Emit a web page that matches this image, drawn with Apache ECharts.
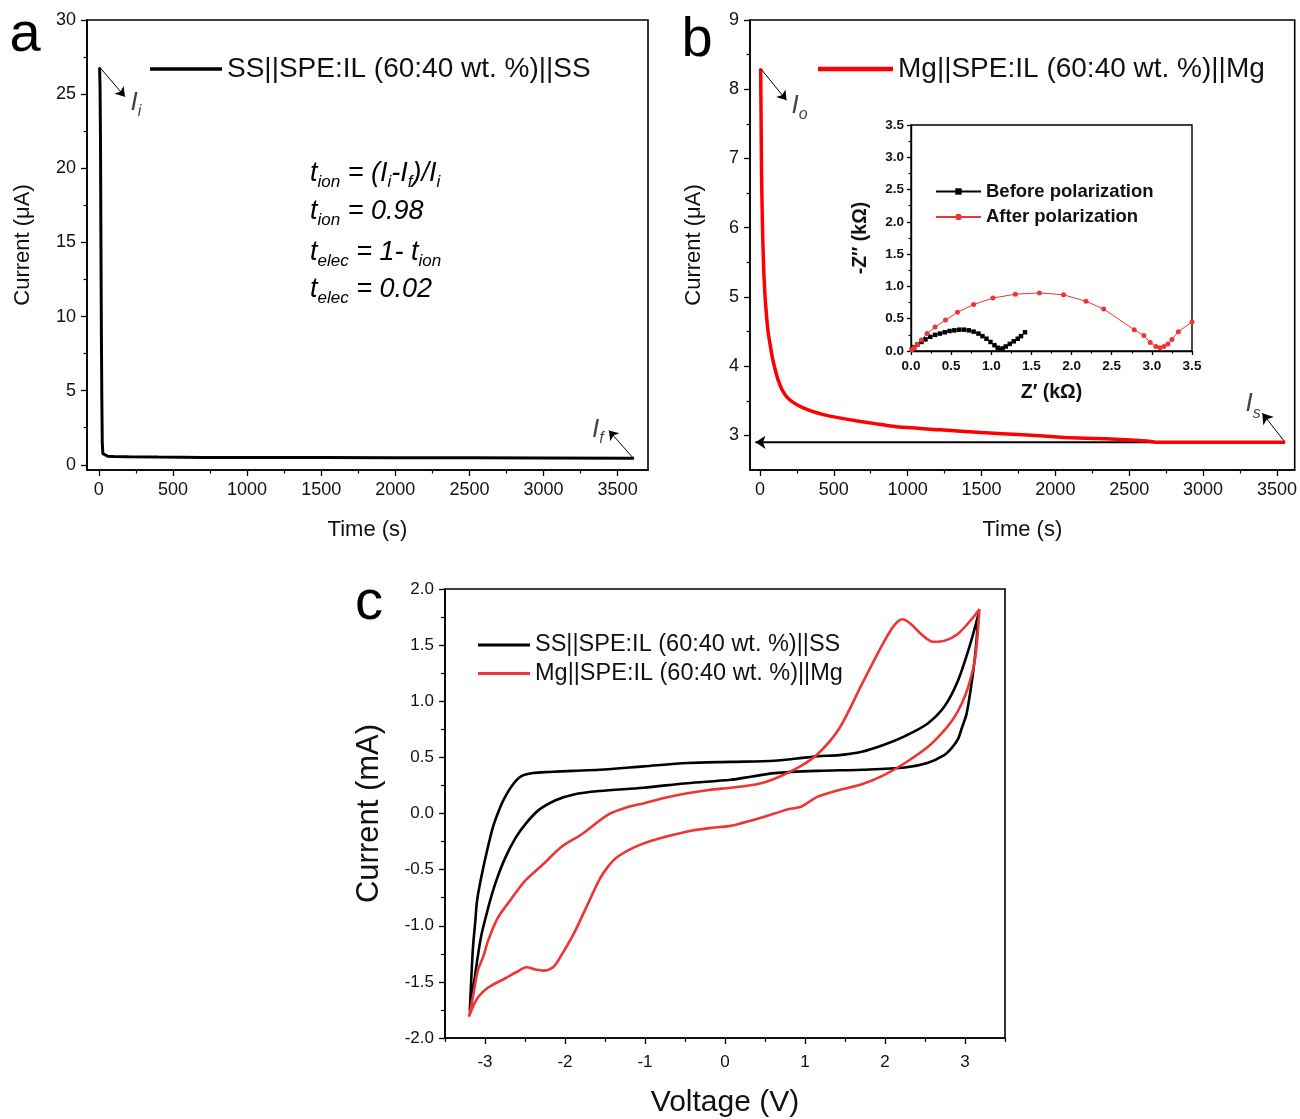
<!DOCTYPE html>
<html><head><meta charset="utf-8">
<script src="https://cdn.jsdelivr.net/npm/echarts@6/dist/echarts.min.js"></script>
<style>html,body{margin:0;padding:0;background:#fff}#chart{width:1300px;height:1119px}</style>
</head><body><div id="chart"></div>
<script>
// ---------- Panel a : DC polarization SS||SPE:IL||SS ----------
const timeA = [5, 8, 11, 14, 17, 20, 23, 27, 35, 60, 100, 200, 400, 700, 1000, 1500, 2000, 2500, 3000, 3610];
const currA = [26.8, 25.5, 22.0, 15.0, 9.0, 4.5, 1.5, 0.75, 0.62, 0.58, 0.56, 0.54, 0.52, 0.5, 0.5, 0.49, 0.48, 0.47, 0.46, 0.45];

// ---------- Panel b : DC polarization Mg||SPE:IL||Mg ----------
const timeB = [5, 8, 11, 15, 20, 27, 35, 42, 55, 70, 85, 100, 120, 150, 185, 230, 290, 350, 430, 520, 650, 780, 950, 1220, 1500, 1780, 2060, 2340, 2620, 2680, 3000, 3300, 3555];
const currB = [8.3, 7.6, 6.8, 6.3, 5.8, 5.33, 5.0, 4.8, 4.5, 4.3, 4.12, 3.98, 3.82, 3.66, 3.55, 3.47, 3.40, 3.35, 3.30, 3.26, 3.21, 3.17, 3.12, 3.08, 3.04, 3.01, 2.97, 2.95, 2.92, 2.90, 2.90, 2.90, 2.90];
const steadyLineT = [3555, -30];
const steadyLineI = [2.9, 2.9];

// ---------- Inset : Nyquist ----------
const zReBefore = [0.01,0.04,0.08,0.13,0.18,0.24,0.30,0.36,0.42,0.48,0.54,0.60,0.66,0.72,0.78,0.84,0.89,0.94,0.99,1.04,1.08,1.11,1.14,1.18,1.23,1.28,1.33,1.37,1.42];
const zImBefore = [0.02,0.06,0.10,0.14,0.18,0.22,0.25,0.27,0.29,0.31,0.32,0.33,0.33,0.32,0.30,0.27,0.23,0.19,0.14,0.09,0.05,0.02,0.04,0.07,0.11,0.15,0.19,0.23,0.29];
const zReAfter = [0.01,0.04,0.08,0.13,0.2,0.3,0.43,0.58,0.78,1.02,1.3,1.6,1.9,2.18,2.4,2.78,2.9,2.98,3.05,3.1,3.15,3.2,3.25,3.33,3.5];
const zImAfter = [0.02,0.05,0.1,0.17,0.27,0.37,0.48,0.6,0.72,0.82,0.88,0.9,0.87,0.77,0.65,0.33,0.24,0.13,0.07,0.05,0.07,0.11,0.18,0.3,0.45];

// ---------- Panel c : cyclic voltammetry ----------
const cvSSVolt = [-3.19,-3.17,-3.15,-3.12,-3.10,-3.05,-2.98,-2.90,-2.83,-2.77,-2.66,-2.55,-2.40,-2.20,-1.90,-1.57,-1.02,-0.47,0.07,0.62,0.90,1.16,1.43,1.71,1.98,2.25,2.53,2.74,2.91,3.07,3.17,
  3.13,3.08,3.02,2.96,2.91,2.83,2.74,2.53,2.25,1.71,1.16,0.62,0.34,0.07,-0.47,-1.02,-1.57,-1.89,-2.11,-2.33,-2.49,-2.62,-2.75,-2.85,-2.93,-3.00,-3.05,-3.10,-3.14,-3.19];
const cvSSCurr = [-1.76,-1.45,-1.19,-0.95,-0.78,-0.58,-0.35,-0.12,0.02,0.12,0.25,0.33,0.36,0.37,0.38,0.39,0.42,0.45,0.46,0.47,0.49,0.51,0.52,0.55,0.61,0.69,0.80,0.95,1.18,1.52,1.78,
  1.43,1.15,0.89,0.76,0.66,0.58,0.52,0.45,0.41,0.39,0.38,0.36,0.33,0.30,0.27,0.23,0.20,0.17,0.12,0.03,-0.09,-0.22,-0.40,-0.58,-0.76,-0.95,-1.10,-1.32,-1.52,-1.76];
const cvMgVolt = [-3.20,-3.15,-3.09,-3.02,-2.96,-2.84,-2.67,-2.50,-2.27,-2.05,-1.78,-1.46,-1.20,-1.02,-0.75,-0.47,-0.20,0.07,0.40,0.62,0.94,1.16,1.43,1.71,1.98,2.12,2.22,2.32,2.45,2.60,2.75,2.91,3.07,3.18,
  3.13,3.05,2.96,2.85,2.69,2.53,2.25,1.98,1.71,1.43,1.16,0.95,0.80,0.62,0.34,0.07,-0.20,-0.47,-0.91,-1.13,-1.35,-1.47,-1.57,-1.73,-1.89,-2.06,-2.15,-2.27,-2.37,-2.48,-2.60,-2.75,-2.96,-3.08,-3.15,-3.20];
const cvMgCurr = [-1.81,-1.63,-1.40,-1.27,-1.13,-0.93,-0.76,-0.60,-0.45,-0.30,-0.18,-0.01,0.06,0.09,0.14,0.18,0.21,0.23,0.26,0.31,0.42,0.53,0.76,1.15,1.52,1.68,1.73,1.69,1.60,1.53,1.54,1.60,1.72,1.82,
  1.40,1.15,0.98,0.84,0.70,0.59,0.45,0.34,0.26,0.21,0.15,0.06,0.04,0.00,-0.06,-0.11,-0.13,-0.16,-0.24,-0.30,-0.39,-0.48,-0.59,-0.83,-1.07,-1.28,-1.37,-1.40,-1.39,-1.37,-1.41,-1.47,-1.55,-1.63,-1.72,-1.81];

// ---------- tick labels ----------
const ticksTime = [0, 500, 1000, 1500, 2000, 2500, 3000, 3500];
const ticksTimeMinor = [250, 750, 1250, 1750, 2250, 2750, 3250];
const ticksCurrA = [0, 5, 10, 15, 20, 25, 30];
const ticksCurrAMinor = [2.5, 7.5, 12.5, 17.5, 22.5, 27.5];
const ticksCurrB = [3, 4, 5, 6, 7, 8, 9];
const ticksCurrBMinor = [3.5, 4.5, 5.5, 6.5, 7.5, 8.5];
const ticksZ = [0, 0.5, 1, 1.5, 2, 2.5, 3, 3.5];
const ticksZMinor = [0.25, 0.75, 1.25, 1.75, 2.25, 2.75, 3.25];
const ticksVolt = [-3, -2, -1, 0, 1, 2, 3];
const ticksVoltMinor = [-3.5, -2.5, -1.5, -0.5, 0.5, 1.5, 2.5, 3.5];
const ticksCurrC = [-2, -1.5, -1, -0.5, 0, 0.5, 1, 1.5, 2];
const ticksCurrCMinor = [-1.75, -1.25, -0.75, -0.25, 0.25, 0.75, 1.25, 1.75];

// ---------- annotation anchors (data coords) ----------
const annA = { peak: [7, 26.8], peakTip: [176, 24.83], peakLbl: [250, 24.4], end: [3610, 0.4], endTip: [3441, 2.31], endLbl: [3367, 2.36] };
const annB = { peak: [5, 8.3], peakTip: [180, 7.84], peakLbl: [269, 7.76], end: [3555, 2.9], endTip: [3401, 3.32], endLbl: [3338, 3.45] };

const nameSS = 'SS||SPE:IL (60:40 wt. %)||SS';
const nameMg = 'Mg||SPE:IL (60:40 wt. %)||Mg';
const FONT = "'Liberation Sans', Arial, Helvetica, sans-serif";
const TXT = '#111';
const RED = '#ff0000';
const RED2 = '#ee3535';
const zip = (a, b) => a.map((v, i) => [v, b[i]]);

function axes(kind, grid, min, max, major, minor, o) {
  const pos = kind === 'x' ? 'bottom' : 'left';
  const main = {
    type: 'value', gridIndex: grid, min: min, max: max, position: pos,
    axisLine: { show: true, onZero: false, lineStyle: { color: '#000', width: o.lw || 1.6 } },
    axisTick: { show: true, inside: false, length: o.tl || 6, customValues: major, lineStyle: { color: '#000', width: 1.3 } },
    axisLabel: { show: true, customValues: major, color: TXT, fontFamily: FONT, fontSize: o.fs, fontWeight: o.fw || 'normal', margin: o.margin, formatter: o.fmt },
    splitLine: { show: false }, minorTick: { show: false },
    name: o.name, nameLocation: 'middle', nameGap: o.nameGap,
    nameTextStyle: { color: TXT, fontFamily: FONT, fontSize: o.nfs, fontWeight: o.fw || 'normal' }
  };
  const sub = {
    type: 'value', gridIndex: grid, min: min, max: max, position: pos,
    axisLine: { show: false, onZero: false },
    axisTick: { show: true, inside: false, length: o.mtl || 3.5, customValues: minor, lineStyle: { color: '#000', width: 1.2 } },
    axisLabel: { show: false }, splitLine: { show: false }
  };
  return [main, sub];
}

const f1 = v => v.toFixed(1);
const f0 = v => String(v);
const xAxes = [].concat(
  axes('x', 0, -80, 3705, ticksTime, ticksTimeMinor, { fs: 18, margin: 11, fmt: f0, name: 'Time (s)', nameGap: 49, nfs: 22 }),
  axes('x', 1, -67, 3620, ticksTime, ticksTimeMinor, { fs: 18, margin: 11, fmt: f0, name: 'Time (s)', nameGap: 49, nfs: 22 }),
  axes('x', 2, 0, 3.5, ticksZ, ticksZMinor, { fs: 13.5, fw: 'bold', margin: 8, fmt: f1, name: 'Z\u2032 (k\u03a9)', nameGap: 32, nfs: 19.5, tl: 4, mtl: 2.5, lw: 1.4 }),
  axes('x', 3, -3.5, 3.5, ticksVolt, ticksVoltMinor, { fs: 17, margin: 16, fmt: f0, name: 'Voltage (V)', nameGap: 50, nfs: 30, mtl: 4 })
);
const yAxes = [].concat(
  axes('y', 0, -0.35, 30, ticksCurrA, ticksCurrAMinor, { fs: 18, margin: 11, fmt: f0, name: 'Current (\u03bcA)', nameGap: 53, nfs: 22 }),
  axes('y', 1, 2.5, 9, ticksCurrB, ticksCurrBMinor, { fs: 18, margin: 11, fmt: f0, name: 'Current (\u03bcA)', nameGap: 45, nfs: 22 }),
  axes('y', 2, 0, 3.5, ticksZ, ticksZMinor, { fs: 13.5, fw: 'bold', margin: 7, fmt: f1, name: '-Z\u2033 (k\u03a9)', nameGap: 40, nfs: 19.5, tl: 4, mtl: 2.5, lw: 1.4 }),
  axes('y', 3, -2, 2, ticksCurrC, ticksCurrCMinor, { fs: 17, margin: 11, fmt: f1, name: 'Current (mA)', nameGap: 60, nfs: 31, mtl: 4 })
);

const subRich = (fs, sfs, lh) => ({
  m: { fontFamily: FONT, fontStyle: 'italic', fontSize: fs, lineHeight: lh, color: TXT },
  s: { fontFamily: FONT, fontStyle: 'italic', fontSize: sfs, lineHeight: sfs, verticalAlign: 'bottom', color: TXT }
});
const annRich = subRich(26, 16, 34);

function labelSeries(xi, yi, pts, texts) {
  return {
    type: 'scatter', xAxisIndex: xi, yAxisIndex: yi, symbolSize: 0, silent: true, z: 5,
    data: pts.map((p, i) => ({ value: p, label: { formatter: texts[i] } })),
    label: { show: true, position: 'inside', rich: annRich }
  };
}
function arrowMark(pairs, extra) {
  return Object.assign({
    silent: true, symbol: ['none', 'arrow'], symbolSize: 9, animation: false,
    lineStyle: { color: '#000', width: 1, type: 'solid' }, label: { show: false },
    emphasis: { disabled: true },
    data: pairs.map(p => [{ coord: p[0] }, { coord: p[1] }])
  }, extra || {});
}

const series = [
  // panel a
  { type: 'line', name: nameSS, xAxisIndex: 0, yAxisIndex: 0, data: zip(timeA, currA), symbol: 'none',
    lineStyle: { color: '#000', width: 3 }, itemStyle: { color: '#000' },
    markLine: arrowMark([[annA.peak, annA.peakTip], [annA.end, annA.endTip]]) },
  labelSeries(0, 0, [annA.peakLbl, annA.endLbl], ['{m|I}{s|i}', '{m|I}{s|f}']),
  // panel b
  { type: 'line', xAxisIndex: 2, yAxisIndex: 2, data: zip(steadyLineT, steadyLineI), symbol: 'none', z: 1,
    lineStyle: { color: '#000', width: 2 },
    markLine: arrowMark([[[0, 2.9], [-30, 2.9]], [annB.end, annB.endTip]], { z: 1, symbolSize: 10 }) },
  { type: 'line', name: nameMg, xAxisIndex: 2, yAxisIndex: 2, data: zip(timeB, currB), symbol: 'none', z: 3, smooth: 0.15,
    lineStyle: { color: RED, width: 3.5 }, itemStyle: { color: RED },
    markLine: arrowMark([[annB.peak, annB.peakTip]]) },
  labelSeries(2, 2, [annB.peakLbl, annB.endLbl], ['{m|I}{s|o}', '{m|I}{s|s}']),
  // inset
  { type: 'line', name: 'Before polarization', xAxisIndex: 4, yAxisIndex: 4, data: zip(zReBefore, zImBefore),
    symbol: 'rect', symbolSize: 4.5, showSymbol: true, lineStyle: { color: '#000', width: 1 }, itemStyle: { color: '#000' } },
  { type: 'line', name: 'After polarization', xAxisIndex: 4, yAxisIndex: 4, data: zip(zReAfter, zImAfter),
    symbol: 'circle', symbolSize: 5, showSymbol: true, lineStyle: { color: RED2, width: 1 }, itemStyle: { color: RED2 } },
  // panel c
  { type: 'line', name: nameSS, xAxisIndex: 6, yAxisIndex: 6, data: zip(cvSSVolt, cvSSCurr), symbol: 'none', smooth: 0.3,
    lineStyle: { color: '#000', width: 2.6 }, itemStyle: { color: '#000' } },
  { type: 'line', name: nameMg, xAxisIndex: 6, yAxisIndex: 6, data: zip(cvMgVolt, cvMgCurr), symbol: 'none', smooth: 0.3,
    lineStyle: { color: RED2, width: 2.6 }, itemStyle: { color: RED2 } }
];

const legTxt = fs => ({ color: TXT, fontFamily: FONT, fontSize: fs });
const legend = [
  { data: [{ name: nameSS, icon: 'rect', itemStyle: { color: '#000' } }], left: 150, top: 55, itemWidth: 72, itemHeight: 3.5, selectedMode: false, textStyle: legTxt(28), padding: 0 },
  { data: [{ name: nameMg, icon: 'rect', itemStyle: { color: RED } }], left: 818, top: 55, itemWidth: 75, itemHeight: 4.5, selectedMode: false, textStyle: legTxt(28), padding: 0 },
  { data: ['Before polarization', 'After polarization'], orient: 'vertical', left: 935, top: 182, itemWidth: 45, itemHeight: 8, itemGap: 6.5, selectedMode: false,
    textStyle: Object.assign(legTxt(18.5), { fontWeight: 'bold' }), padding: 0 },
  { data: [{ name: nameSS, icon: 'rect', itemStyle: { color: '#000' } }, { name: nameMg, icon: 'rect', itemStyle: { color: RED2 } }],
    orient: 'vertical', left: 478, top: 633, itemWidth: 52, itemHeight: 2.8, itemGap: 4.5, selectedMode: false, textStyle: legTxt(23.5), padding: 0 }
];

const eqRich = subRich(27, 17, 36);
const graphic = [
  { type: 'text', x: 25, y: 36, style: { text: 'a', font: '56px ' + FONT, fill: '#000', align: 'center', verticalAlign: 'middle' } },
  { type: 'text', x: 697, y: 41, style: { text: 'b', font: '56px ' + FONT, fill: '#000', align: 'center', verticalAlign: 'middle' } },
  { type: 'text', x: 369, y: 604, style: { text: 'c', font: '56px ' + FONT, fill: '#000', align: 'center', verticalAlign: 'middle' } },
  { type: 'text', x: 310, y: 173, style: { text: '{m|t}{s|ion}{m| = (I}{s|i}{m|-I}{s|f}{m|)/I}{s|i}', rich: eqRich, align: 'left', verticalAlign: 'middle' } },
  { type: 'text', x: 310, y: 211, style: { text: '{m|t}{s|ion}{m| = 0.98}', rich: eqRich, align: 'left', verticalAlign: 'middle' } },
  { type: 'text', x: 310, y: 252, style: { text: '{m|t}{s|elec}{m| = 1- t}{s|ion}', rich: eqRich, align: 'left', verticalAlign: 'middle' } },
  { type: 'text', x: 310, y: 289, style: { text: '{m|t}{s|elec}{m| = 0.02}', rich: eqRich, align: 'left', verticalAlign: 'middle' } }
];

const frame = { show: true, borderColor: '#000', borderWidth: 1.6, backgroundColor: 'transparent' };
const option = {
  animation: false,
  backgroundColor: '#fff',
  textStyle: { fontFamily: FONT },
  grid: [
    Object.assign({ left: 87, top: 20, width: 561, height: 450 }, frame),
    Object.assign({ left: 750, top: 20, width: 548, height: 450 }, frame),
    Object.assign({ left: 911, top: 125, width: 281, height: 226 }, frame, { borderWidth: 1.4 }),
    Object.assign({ left: 445, top: 589, width: 560, height: 449 }, frame)
  ],
  xAxis: xAxes,
  yAxis: yAxes,
  legend: legend,
  series: series,
  graphic: graphic
};
const chart = echarts.init(document.getElementById('chart'), null, { renderer: 'canvas' });
chart.setOption(option);
</script></body></html>
